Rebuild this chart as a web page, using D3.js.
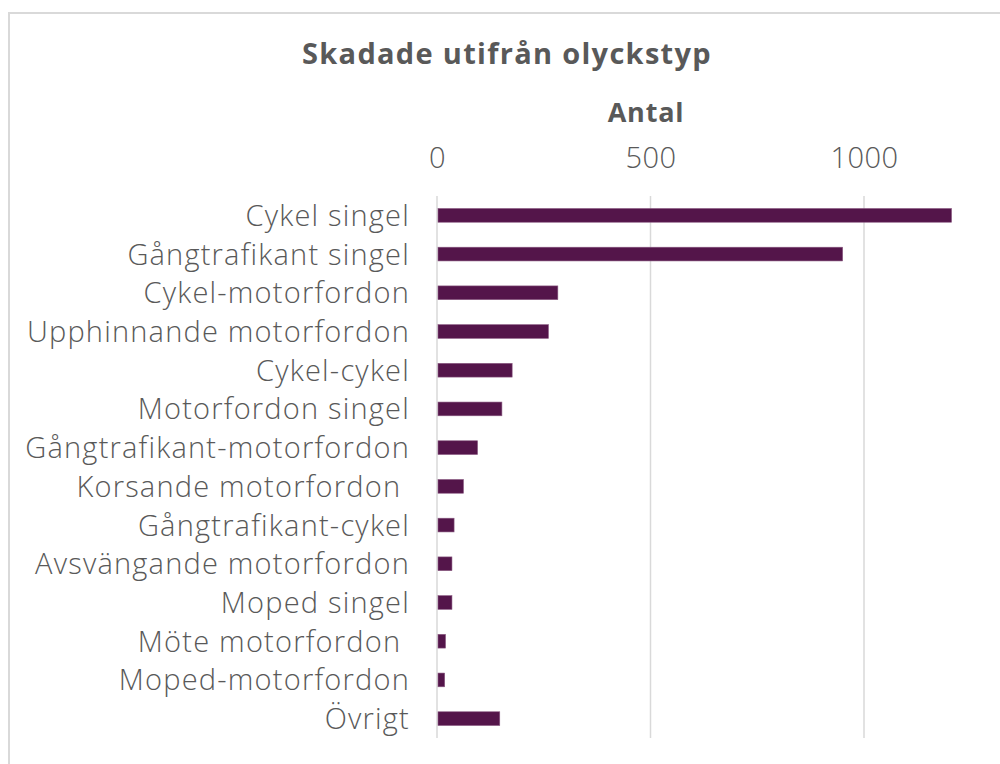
<!DOCTYPE html>
<html>
<head>
<meta charset="utf-8">
<script src="https://cdn.jsdelivr.net/npm/d3@7"></script>
<style>
  body { margin: 0; background: #fff; }
  text { font-family: "Open Sans", Lato, sans-serif; fill: #595959; white-space: pre; }
</style>
</head>
<body>
<div id="container"></div>
<script>
/**
 * DATA
 * */
const categories = [
  "Cykel singel",
  "Gångtrafikant singel",
  "Cykel-motorfordon",
  "Upphinnande motorfordon",
  "Cykel-cykel",
  "Motorfordon singel",
  "Gångtrafikant-motorfordon",
  "Korsande motorfordon ",
  "Gångtrafikant-cykel",
  "Avsvängande motorfordon",
  "Moped singel",
  "Möte motorfordon ",
  "Moped-motorfordon",
  "Övrigt"
];
const values = [1205, 950, 283, 261, 176, 152, 95, 62, 40, 35, 35, 20, 18, 147];
const tickValues = [0, 500, 1000];
const axisMax = 1500;

const titleText = "Skadade utifrån olyckstyp";
const axisTitle = "Antal";

/**
 * CONSTANTS
 * */
const width = 1000,
  height = 764,
  margin = { top: 196, bottom: 26, left: 437 };

const svg = d3
  .select("#container")
  .append("svg")
  .attr("width", width)
  .attr("height", height);

// chart area border (runs off the right and bottom edge)
svg.append("rect")
  .attr("x", 9)
  .attr("y", 13)
  .attr("width", 1000)
  .attr("height", 800)
  .attr("fill", "none")
  .attr("stroke", "#d9d9d9")
  .attr("stroke-width", 2);

// scales
const x = d3.scaleLinear()
  .domain([0, axisMax])
  .range([margin.left, margin.left + 1500 * 0.427]);

const y = d3.scaleBand()
  .domain(categories)
  .range([margin.top, height - margin.bottom])
  .paddingInner(0.645)
  .paddingOuter(0.3225);

// gridlines
svg.append("g")
  .selectAll("line")
  .data(tickValues)
  .join("line")
  .attr("x1", d => x(d))
  .attr("x2", d => x(d))
  .attr("y1", margin.top)
  .attr("y2", height - margin.bottom)
  .attr("stroke", "#d9d9d9")
  .attr("stroke-width", 1.5);

// tick labels on top
const xAxis = d3.axisTop(x)
  .tickValues(tickValues)
  .tickFormat(d3.format("d"))
  .tickSize(0)
  .tickPadding(0);
const gx = svg.append("g")
  .attr("transform", `translate(0, 168)`)
  .call(xAxis);
gx.select(".domain").remove();
gx.selectAll("text")
  .attr("font-size", 29)
  .attr("font-weight", 300)
  .attr("fill", "#595959")
  .attr("font-family", null)
  .attr("letter-spacing", 0.5)
  .attr("dy", 0);

// bars
svg.append("g")
  .selectAll("rect")
  .data(values)
  .join("rect")
  .attr("x", x(0) + 1)
  .attr("y", (d, i) => y(categories[i]))
  .attr("width", d => x(d) - x(0) - 1)
  .attr("height", y.bandwidth())
  .attr("fill", "#54154a")
  .attr("stroke", "#8a5a82")
  .attr("stroke-width", 0.6);

// category labels
svg.append("g")
  .selectAll("text")
  .data(categories)
  .join("text")
  .attr("x", 410)
  .attr("y", d => y(d) + y.bandwidth() / 2)
  .attr("dy", "0.36em")
  .attr("text-anchor", "end")
  .attr("font-size", 29)
  .attr("font-weight", 300)
  .attr("letter-spacing", 1.2)
  .text(d => d);

// titles
svg.append("text")
  .attr("x", 507)
  .attr("y", 64)
  .attr("text-anchor", "middle")
  .attr("font-size", 29)
  .attr("font-weight", 700)
  .attr("letter-spacing", 1.3)
  .text(titleText);

svg.append("text")
  .attr("x", 646)
  .attr("y", 122)
  .attr("text-anchor", "middle")
  .attr("font-size", 27)
  .attr("font-weight", 700)
  .attr("letter-spacing", 0.8)
  .text(axisTitle);
</script>
</body>
</html>
